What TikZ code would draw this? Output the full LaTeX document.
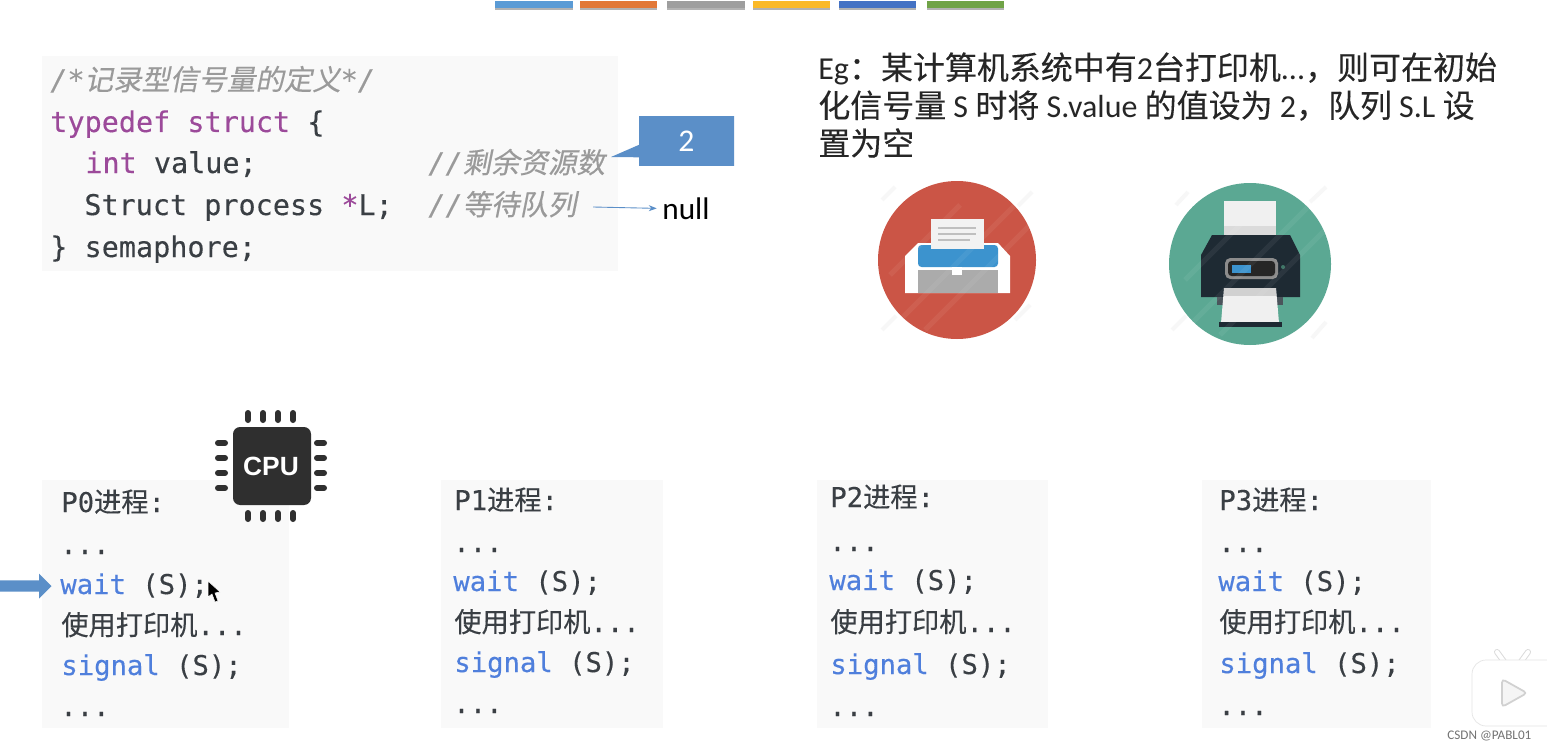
\documentclass[tikz,border=0pt]{standalone}
\usepackage{fontspec}
\setmainfont{Carlito}
\setmonofont[FakeBold=0.25]{DejaVu Sans Mono}
\newfontfamily\cjk[FakeBold=0.2]{Noto Sans CJK SC}
\newfontfamily\cjkit[FakeSlant=0.2,FakeBold=0.3]{Noto Sans CJK SC}
\newfontfamily\chipfont{Liberation Sans}
\usepackage{xcolor}
\usetikzlibrary{positioning, arrows.meta, shapes.arrows, shapes.callouts}
\definecolor{kwpurple}{HTML}{9C4A9A}
\definecolor{kwblue}{HTML}{4F7FDC}
\definecolor{codetext}{HTML}{3A3F44}
\definecolor{commentgray}{HTML}{9A9A9A}
\definecolor{boxblue}{HTML}{5B8FC8}
\definecolor{printred}{HTML}{CB5546}
\definecolor{printgreen}{HTML}{5BA893}
\definecolor{printdark}{HTML}{1E2A33}
\definecolor{printblue}{HTML}{3C93CE}
\definecolor{chipdark}{HTML}{2F2F2F}

\begin{document}
\begin{tikzpicture}[
    x=0.02cm, y=-0.02cm,
    codebox/.style={fill=black!2.5},
    codeline/.style={anchor=base west, inner sep=0pt, text=codetext, font=\ttfamily\fontsize{16.2}{20}\selectfont},
    procline/.style={anchor=base west, inner sep=0pt, text=codetext, font=\ttfamily\fontsize{15.5}{20}\selectfont},
    commentline/.style={codeline, text=commentgray, font=\ttfamily\itshape\fontsize{16.2}{20}\selectfont},
    bodytext/.style={anchor=west, inner sep=0pt, align=left, text=black!85, font=\fontsize{18.2}{21.6}\selectfont},
    tabbar/.style={preaction={fill=black!30, transform canvas={yshift=-1.2pt}}},
    pin/.style={line width=0.12cm, line cap=round, chipdark},
    faint/.style={black!3, line width=0.08cm},
    sheen/.style={white, opacity=0.06, line width=0.1cm},
    ear/.style={line width=0.12cm, line cap=round},
    arr/.style={-{Stealth[length=1.6mm]}, boxblue, line width=0.5pt, shorten >=3pt}
]
\useasboundingbox (0,0) rectangle (1547,750);
\fill[white] (0,0) rectangle (1547,750);
% Top bars
\fill[tabbar, fill={rgb,255:red,91;green,155;blue,213}] (495,1) rectangle (573,8);
\fill[tabbar, fill={rgb,255:red,226;green,120;blue,55}] (580,1) rectangle (657,8);
\fill[tabbar, fill=black!38] (667,1) rectangle (745,8);
\fill[tabbar, fill={rgb,255:red,250;green,185;blue,40}] (753,1) rectangle (830,8);
\fill[tabbar, fill={rgb,255:red,68;green,114;blue,196}] (839,1) rectangle (916,8);
\fill[tabbar, fill={rgb,255:red,112;green,163;blue,71}] (927,1) rectangle (1004,8);
% Semaphore code
\fill[codebox] (42,56) rectangle (618,271);
\node[commentline] (cmt) at (50,90) {/*{\cjkit 记录型信号量的定义}*/};
\node[codeline] (tdef) at (50,132) {\textcolor{kwpurple}{typedef struct} \{};
\node[codeline] (intval) at (85,173) {\textcolor{kwpurple}{int} value;};
\node[codeline] (sproc) at (84,215) {Struct process \textcolor{kwpurple}{*}L;};
\node[codeline] (sema) at (50,257) {\} semaphore;};
\node[commentline] (cmtval) at (428,173) {//{\cjkit 剩余资源数}};
\node[commentline] (cmtq) at (428,215) {//{\cjkit 等待队列}};
% Value and queue head
\node[rectangle callout, fill=boxblue, text=white, minimum width=1.9cm, minimum height=1cm,
      callout absolute pointer={(611,157)}, font=\fontsize{18}{20}\selectfont] (val) at (686.5,141) {2};
\node[anchor=west, inner sep=0pt, font=\fontsize{17.8}{20}\selectfont] (nul) at (662,209) {null};
\coordinate (qstart) at (593,207);
\draw[arr] (qstart) -- (nul);
% Example text
\node[bodytext] (eg) at (818,105) {Eg{\cjk ：某计算机系统中有}2{\cjk 台打印机}...{\cjk ，则可在初始}\\
{\cjk 化信号量} S {\cjk 时将} S.value {\cjk 的值设为} 2{\cjk ，队列} S.L {\cjk 设}\\
{\cjk 置为空}};
% Red printer
\draw[faint] (882,200) -- (895,187) (1018,206) -- (1032,192) (882,330) -- (896,316) (1015,320) -- (1030,305);
\fill[printred] (957,260) circle (79);
\fill[white] (905,293) -- (905,256) -- (918,243) -- (998,243) -- (1010,256) -- (1010,293) -- cycle;
\fill[black!33] (918,270) rectangle (998,293);
\fill[printblue, rounded corners=2pt] (918,245) rectangle (998,267);
\fill[black!5] (931,219) rectangle (984,249);
\draw[black!25, line width=0.6pt] (938,228) -- (976,228) (938,234) -- (976,234) (938,240) -- (970,240);
\fill[white] (952,267) rectangle (962,275);
\draw[sheen] (895,325) -- (1015,205) (925,330) -- (1030,225) (890,275) -- (960,205);
% Green printer
\draw[faint] (1176,205) -- (1188,192) (1310,202) -- (1326,187) (1172,330) -- (1186,316) (1312,338) -- (1326,322);
\fill[printgreen] (1250,264) circle (81);
\fill[black!6] (1224,201) rectangle (1276,237);
\fill[black!14] (1224,226) rectangle (1276,237);
\fill[printdark] (1201,297) -- (1201,255) -- (1212,235) -- (1290,235) -- (1300,255) -- (1300,297) -- cycle;
\fill[black!45, rounded corners=3pt] (1225,258) rectangle (1278,279);
\fill[black!85, rounded corners=2pt] (1228,261) rectangle (1275,276);
\fill[printblue] (1232,265) rectangle (1251,273);
\fill[printdark!80] (1217,297) rectangle (1283,305);
\fill[black!6] (1224,288) -- (1276,288) -- (1279,323) -- (1221,323) -- cycle;
\fill[black!18] (1224,288) rectangle (1276,296);
\fill[printdark] (1219,322) rectangle (1282,327);
\fill[printgreen!70!black] (1283,267) circle (2);
\draw[sheen] (1190,325) -- (1310,205) (1220,335) -- (1325,230) (1185,280) -- (1255,210);
% P0
\fill[codebox] (42,480) rectangle (289,728);
\node[procline] (pa) at (61,512) {P0{\cjk 进程}:};
\node[procline] (pb) at (60,554) {...};
\node[procline] (pc) at (60,594) {\textcolor{kwblue}{wait} (S);};
\node[procline] (pd) at (61,635) {{\cjk 使用打印机}...};
\node[procline] (pe) at (61,675) {\textcolor{kwblue}{signal} (S);};
\node[procline] (pf) at (60,716) {...};
% CPU chip
\fill[chipdark, rounded corners=4pt] (233,427) rectangle (311,505);
\node[text=white, inner sep=0pt, font=\chipfont\bfseries\fontsize{15}{18}\selectfont] (chip) at (271,466) {CPU};
\foreach \px in {248,263,278,293} {
    \draw[pin] (\px,413) -- (\px,420);
    \draw[pin] (\px,513) -- (\px,519);
}
\foreach \py in {443,458,473,488} {
    \draw[pin] (218,\py) -- (225,\py);
    \draw[pin] (317,\py) -- (324,\py);
}
% P1
\fill[codebox] (441,480) rectangle (663,728);
\node[procline] (qa) at (454,510) {P1{\cjk 进程}:};
\node[procline] (qb) at (453,552) {...};
\node[procline] (qc) at (453,591) {\textcolor{kwblue}{wait} (S);};
\node[procline] (qd) at (454,632) {{\cjk 使用打印机}...};
\node[procline] (qe) at (454,672) {\textcolor{kwblue}{signal} (S);};
\node[procline] (qf) at (453,713) {...};
% P2
\fill[codebox] (817,480) rectangle (1048,728);
\node[procline] (ra) at (830,507) {P2{\cjk 进程}:};
\node[procline] (rb) at (829,551) {...};
\node[procline] (rc) at (829,590) {\textcolor{kwblue}{wait} (S);};
\node[procline] (rd) at (830,632) {{\cjk 使用打印机}...};
\node[procline] (re) at (830,674) {\textcolor{kwblue}{signal} (S);};
\node[procline] (rf) at (829,716) {...};
% P3
\fill[codebox] (1202,480) rectangle (1431,728);
\node[procline] (sa) at (1219,510) {P3{\cjk 进程}:};
\node[procline] (sb) at (1218,552) {...};
\node[procline] (sc) at (1218,591) {\textcolor{kwblue}{wait} (S);};
\node[procline] (sd) at (1219,632) {{\cjk 使用打印机}...};
\node[procline] (se) at (1219,673) {\textcolor{kwblue}{signal} (S);};
\node[procline] (sf) at (1218,715) {...};
% Program counter arrow and pointer
\node[single arrow, fill=boxblue, minimum height=1.04cm, minimum width=0.5cm,
      single arrow head extend=0.05cm, inner sep=1pt, anchor=east] (pcarr) at (52,586) {};
\fill[black, draw=white, line width=0.3pt] (208,581) -- (208,597) -- (212,594) -- (215,602) -- (218,601) -- (215,593) -- (220,592) -- cycle;
% Watermark
\draw[ear, black!14] (1497,652) -- (1505,663) (1528,652) -- (1520,663);
\draw[ear, white, line width=0.08cm] (1497,652) -- (1505,663) (1528,652) -- (1520,663);
\fill[white, draw=black!10, rounded corners=8pt] (1472,660) rectangle (1560,726);
\fill[black!4, draw=black!18, line width=1pt, rounded corners=2pt] (1502,679) -- (1502,707) -- (1527,693) -- cycle;
\node[anchor=west, inner sep=0pt, text=black!55, font=\fontsize{7.5}{9}\selectfont] (mark) at (1447,736) {CSDN @PABL01};
\end{tikzpicture}
\end{document}
